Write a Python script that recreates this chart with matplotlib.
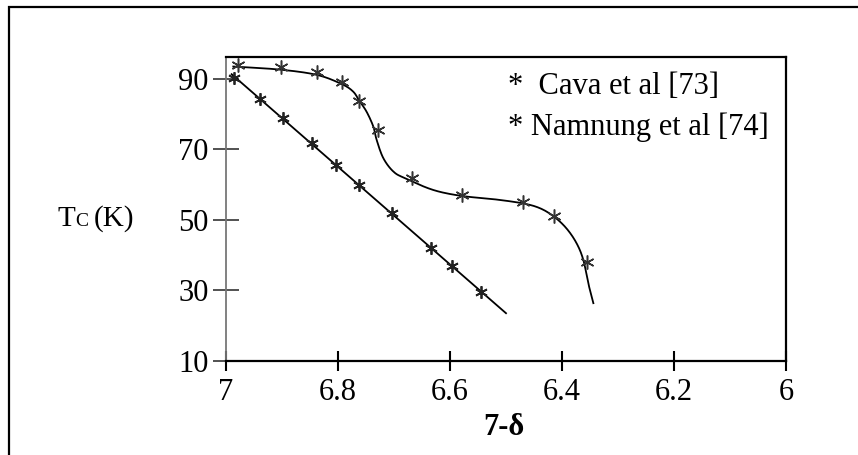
import matplotlib
matplotlib.use("Agg")
import matplotlib.pyplot as plt
from matplotlib.patches import Rectangle
import numpy as np

plt.rcParams['font.family'] = ['Liberation Serif', 'DejaVu Serif']

# data
cava_x = [6.978, 6.902, 6.837, 6.793, 6.762, 6.729, 6.667, 6.579, 6.470, 6.414, 6.355]
cava_y = [94.0, 93.5, 91.9, 89.0, 83.6, 75.4, 62.0, 57.1, 55.2, 51.1, 38.2]

nam_x = [6.986, 6.939, 6.898, 6.847, 6.804, 6.762, 6.703, 6.634, 6.596, 6.545]
nam_y = [90.2, 84.3, 78.9, 71.8, 65.6, 59.9, 51.9, 42.0, 36.8, 29.5]

# hand drawn guide curve through the Cava points (traced)
curve_x = [6.987, 6.902, 6.837, 6.793, 6.773, 6.762, 6.749, 6.737, 6.731, 6.719,
           6.701, 6.680, 6.630, 6.579, 6.523, 6.470, 6.439, 6.414, 6.392, 6.374,
           6.362, 6.353, 6.344]
curve_y = [93.5, 92.6, 91.1, 88.5, 86.4, 83.8, 80.7, 76.5, 72.7, 67.5,
           63.7, 61.8, 58.5, 56.8, 55.9, 54.7, 53.3, 50.9, 47.6, 43.4,
           38.7, 32.0, 26.4]

# extent of the straight fit line for Namnung
fit_range = [6.99, 6.50]

labels = ['Cava et al [73]', 'Namnung et al [74]']
xticks = [7, 6.8, 6.6, 6.4, 6.2, 6]
xticklabels = ['7', '6.8', '6.6', '6.4', '6.2', '6']
yticks = [10, 30, 50, 70, 90]


def catmull(xs, ys, sx=560.0, sy=3.525, n=12):
    # smooth the traced curve in (roughly) pixel space
    p = np.column_stack([np.array(xs) * sx, np.array(ys) * sy])
    p = np.vstack([2 * p[0] - p[1], p, 2 * p[-1] - p[-2]])
    out = []
    for i in range(1, len(p) - 2):
        p0, p1, p2, p3 = p[i - 1], p[i], p[i + 1], p[i + 2]
        t = np.linspace(0, 1, n, endpoint=False)[:, None]
        seg = 0.5 * ((2 * p1) + (-p0 + p2) * t + (2 * p0 - 5 * p1 + 4 * p2 - p3) * t ** 2
                     + (-p0 + 3 * p1 - 3 * p2 + p3) * t ** 3)
        out.append(seg)
    out.append(p[-2][None, :])
    out = np.vstack(out)
    return out[:, 0] / sx, out[:, 1] / sy


fig = plt.figure(figsize=(8.58, 4.55), dpi=100)
ax = fig.add_axes([226 / 858, 1 - 361 / 455, 560 / 858, 304 / 455])

# outer frame (cut off at right and bottom)
fig.add_artist(Rectangle((9 / 858, -0.05), 1.2, 1 - 7 / 455 + 0.05,
                         transform=fig.transFigure, fill=False,
                         edgecolor='black', linewidth=1.6))

cx, cy = catmull(curve_x, curve_y)
ax.plot(cx, cy, color='black', lw=1.3)

k = np.polyfit(nam_x, nam_y, 1)
fx = np.array(fit_range)
ax.plot(fx, np.polyval(k, fx), color='black', lw=1.3)

ax.plot(cava_x, cava_y, ls='none', marker=(6, 2, 0), ms=10, mew=1.1,
        color='#333333')
ax.plot(nam_x, nam_y, ls='none', marker=(6, 2, 0), ms=9, mew=1.3,
        color='#222222')

ax.set_xlim(7, 6)
ax.set_ylim(10, 96.2)
ax.set_xticks(xticks)
ax.set_xticklabels(xticklabels)
ax.set_yticks(yticks)

ax.tick_params(axis='x', direction='inout', length=14, width=1.5,
               labelsize=22, pad=5, color='black')
ax.tick_params(axis='y', direction='inout', length=19, width=1.2,
               labelsize=22, pad=3, color='#333333')

for s in ['top', 'right', 'bottom']:
    ax.spines[s].set_linewidth(1.6)
    ax.spines[s].set_color('black')
ax.spines['left'].set_linewidth(1.3)
ax.spines['left'].set_color('#777777')

# legend as text
ax.text(508 / 858, 1 - 94 / 455, '*  ' + labels[0], transform=fig.transFigure,
        fontsize=22, va='baseline', ha='left')
ax.text(508 / 858, 1 - 135 / 455, '* ' + labels[1], transform=fig.transFigure,
        fontsize=22, va='baseline', ha='left')

# y label: T with small C
fig.text(57 / 858, 1 - 226 / 455, 'T', fontsize=21, va='baseline', ha='left')
fig.text(75 / 858, 1 - 226 / 455, 'C', fontsize=14, va='baseline', ha='left')
fig.text(94 / 858, 1 - 226 / 455, '(K)', fontsize=21, va='baseline', ha='left')

# x label
fig.text(504 / 858, 1 - 435 / 455, '7-δ', fontsize=22, fontweight='bold',
         va='baseline', ha='center')

fig.savefig('out.png', dpi=100)
